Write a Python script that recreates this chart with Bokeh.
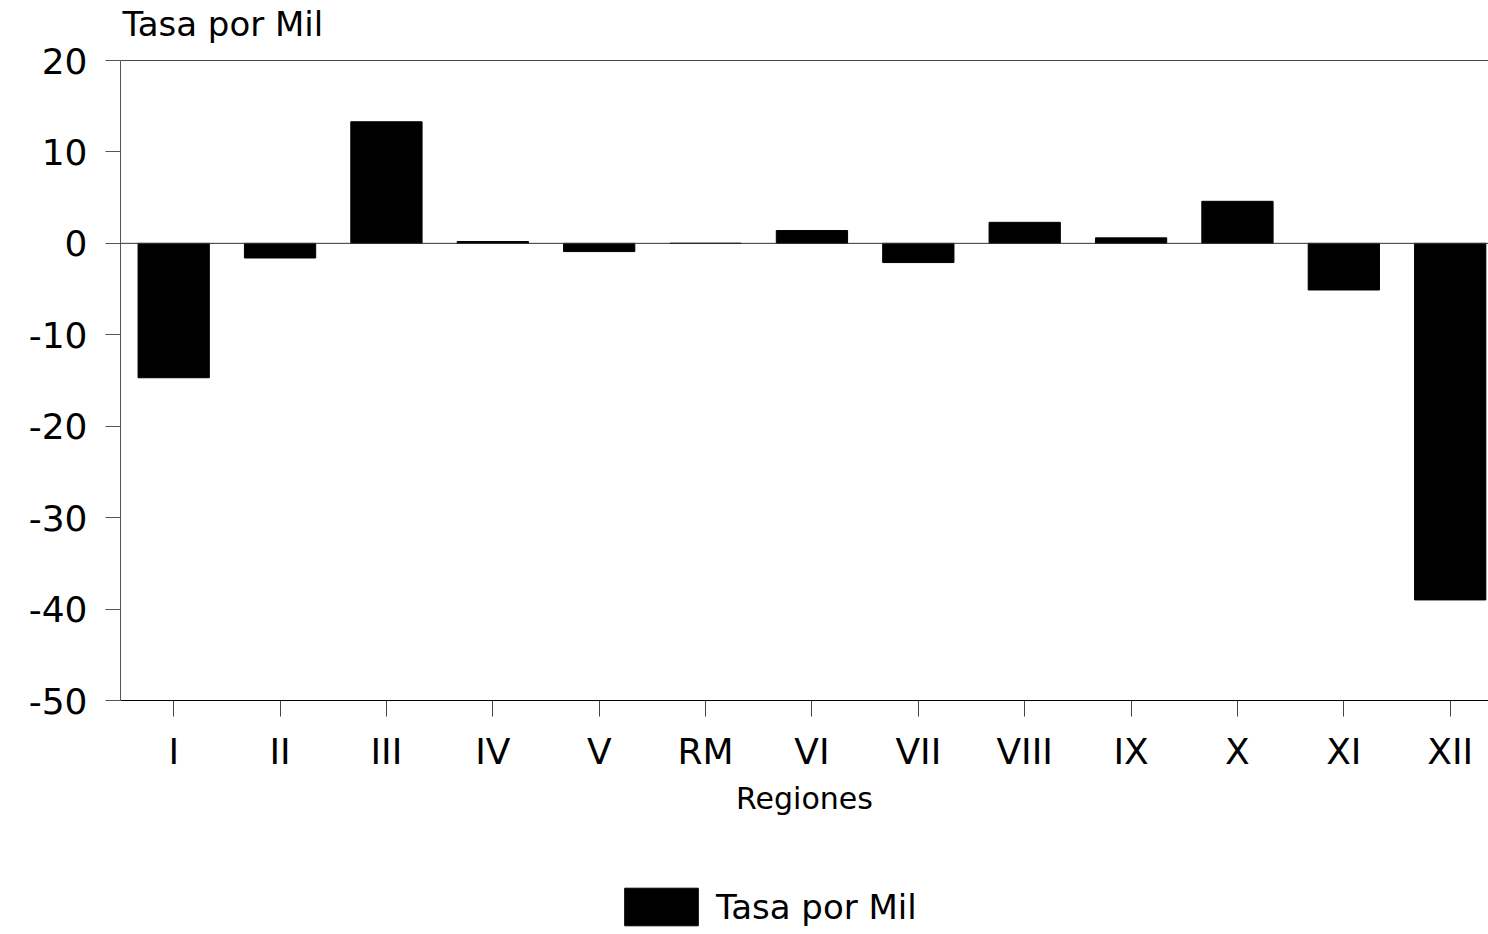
from bokeh.plotting import figure
from bokeh.models import Range1d, FixedTicker, Span, Legend, LegendItem, Label
from bokeh.layouts import column
from bokeh.embed import file_html
from bokeh.resources import INLINE

regions = ["I", "II", "III", "IV", "V", "RM", "VI", "VII", "VIII", "IX", "X", "XI", "XII"]
tasa = [-14.7, -1.6, 13.3, 0.2, -0.9, 0.0, 1.4, -2.1, 2.3, 0.6, 4.6, -5.1, -39.0]
y_ticks = [20, 10, 0, -10, -20, -30, -40, -50]
y_tick_labels = ["20", "10", "0", "-10", "-20", "-30", "-40", "-50"]
series_name = "Tasa por Mil"
x_title = "Regiones"
y_title = "Tasa por Mil"

FONT = "DejaVu Sans"
Y_MIN, Y_MAX = -50, 20
# headroom above the top tick so the caption sits inside the frame
Y_TOP = Y_MAX + 60 * (Y_MAX - Y_MIN) / 640

x_idx = list(range(len(regions)))

p = figure(width=1488, height=830, output_backend="svg", toolbar_location=None,
           x_range=Range1d(-0.5, 12.36), y_range=Range1d(Y_MIN, Y_TOP),
           min_border_left=120, min_border_right=0, min_border_top=0, min_border_bottom=130)
p.outline_line_color = None
p.xgrid.visible = False
p.ygrid.visible = False
p.background_fill_color = "white"
p.border_fill_color = "white"

bars = p.vbar(x=x_idx, top=tasa, bottom=0, width=0.67, fill_color="black", line_color="black")

# top line and zero line
p.add_layout(Span(location=Y_MAX, dimension="width", line_color="#444444", line_width=1))
p.add_layout(Span(location=0, dimension="width", line_color="#333333", line_width=1))

# y axis
ya = p.yaxis[0]
ya.ticker = FixedTicker(ticks=y_ticks)
ya.bounds = (Y_MIN, Y_MAX)
ya.major_label_overrides = dict(zip(y_ticks, y_tick_labels))
ya.minor_tick_line_color = None
ya.major_tick_in = 0
ya.major_tick_out = 15
ya.major_label_standoff = 18
ya.axis_line_color = "#555555"
ya.major_tick_line_color = "#555555"
ya.major_label_text_font = FONT
ya.major_label_text_font_size = "36px"
ya.major_label_text_color = "black"

# x axis
xa = p.xaxis[0]
xa.ticker = FixedTicker(ticks=x_idx)
xa.major_label_overrides = {i: r for i, r in enumerate(regions)}
xa.minor_tick_line_color = None
xa.major_tick_in = 0
xa.major_tick_out = 16
xa.major_label_standoff = 14
xa.axis_line_color = "black"
xa.major_tick_line_color = "#444444"
xa.major_label_text_font = FONT
xa.major_label_text_font_size = "36px"
xa.major_label_text_color = "black"
xa.axis_label = x_title
xa.axis_label_text_font = FONT
xa.axis_label_text_font_size = "30px"
xa.axis_label_text_font_style = "normal"
xa.axis_label_text_color = "black"
xa.axis_label_standoff = 6

# caption above the value axis
cap = Label(x=2, y=677, x_units="screen", y_units="screen", text=y_title,
            text_font=FONT, text_font_size="34px", text_color="black",
            text_align="left", text_baseline="middle")
p.add_layout(cap)

# legend strip below the chart (its bars lie outside the visible range)
lg = figure(width=1488, height=104, output_backend="svg", toolbar_location=None,
            x_axis_location=None, y_axis_location=None,
            x_range=Range1d(-0.5, 12.36), y_range=Range1d(100, 101),
            min_border_left=0, min_border_right=0, min_border_top=0, min_border_bottom=0)
lg.outline_line_color = None
lg.xgrid.visible = False
lg.ygrid.visible = False
lg.border_fill_color = "white"
key = lg.vbar(x=x_idx, top=tasa, bottom=0, width=0.67, fill_color="black", line_color="black")

legend = Legend(items=[LegendItem(label=series_name, renderers=[key])],
                location=(495, 4), orientation="horizontal")
legend.glyph_width = 92
legend.glyph_height = 47
legend.label_standoff = 9
legend.label_text_font = FONT
legend.label_text_font_size = "34px"
legend.label_text_color = "black"
legend.padding = 0
legend.margin = 0
legend.border_line_color = None
legend.background_fill_alpha = 0
lg.add_layout(legend, "center")

page = column(p, lg, spacing=0)
open("out.html", "w").write(file_html(page, INLINE))
